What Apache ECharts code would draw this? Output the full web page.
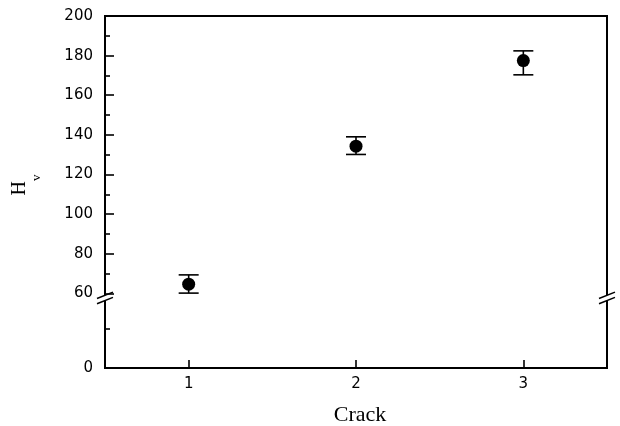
<!DOCTYPE html>
<html>
<head>
<meta charset="utf-8">
<script src="https://cdn.jsdelivr.net/npm/echarts@6/dist/echarts.min.js"></script>
<style>
  html, body { margin: 0; padding: 0; background: #fff; }
  #chart { width: 620px; height: 426px; }
</style>
</head>
<body>
<div id="chart"></div>
<script>
// Vickers hardness per crack (mean with lower/upper error bounds)
const categories = ['1', '2', '3'];
const hvMean = [64.6, 134.3, 177.5];
const hvLow = [60.1, 130.1, 170.3];
const hvHigh = [69.3, 139.0, 182.4];

// Y axis: labelled ticks, short ticks and the collapsed range
const yMajorTicks = [0, 60, 80, 100, 120, 140, 160, 180, 200];
const yMinorTicks = [20, 70, 90, 110, 130, 150, 170, 190];
const yBreak = { start: 35, end: 58 };

const INK = '#000';
const chart = echarts.init(document.getElementById('chart'), null, { renderer: 'canvas' });

function yAxisBase() {
  return {
    type: 'value',
    min: 0,
    max: 200,
    position: 'left',
    offset: 0,
    breaks: [{ start: yBreak.start, end: yBreak.end, gap: '0.4%' }],
    breakArea: { show: false, itemStyle: { opacity: 0, borderWidth: 0 } },
    splitLine: { show: false },
    axisLine: { show: false }
  };
}

const majorY = Object.assign(yAxisBase(), {
  name: '{h|H}{v|v}',
  nameLocation: 'middle',
  nameGap: 62,
  nameTextStyle: {
    padding: [0, 0, 0, 14],
    rich: {
      h: { fontFamily: 'Liberation Serif', fontSize: 20, color: INK, lineHeight: 34, verticalAlign: 'middle' },
      v: { fontFamily: 'Liberation Serif', fontSize: 13, color: INK, lineHeight: 46, verticalAlign: 'bottom' }
    }
  },
  axisTick: { show: true, inside: true, length: 9, lineStyle: { color: INK, width: 1.6 }, customValues: yMajorTicks },
  axisLabel: { show: true, margin: 12, fontFamily: 'DejaVu Sans', fontSize: 15, color: INK, customValues: yMajorTicks }
});

const minorY = Object.assign(yAxisBase(), {
  axisTick: { show: true, inside: true, length: 5, lineStyle: { color: INK, width: 1.6 }, customValues: yMinorTicks },
  axisLabel: { show: false }
});

chart.setOption({
  animation: false,
  backgroundColor: '#fff',
  grid: {
    left: 105, right: 13, top: 16, bottom: 58,
    containLabel: false, outerBoundsMode: 'none',
    show: true, borderColor: INK, borderWidth: 2, backgroundColor: 'transparent'
  },
  xAxis: {
    type: 'category',
    data: categories,
    boundaryGap: true,
    name: 'Crack',
    nameLocation: 'middle',
    nameGap: 36,
    nameTextStyle: { fontFamily: 'Liberation Serif', fontSize: 22, color: INK, padding: [0, 0, 0, 8] },
    axisLine: { show: false },
    axisTick: { show: true, inside: true, alignWithLabel: true, length: 8, lineStyle: { color: INK, width: 1.6 } },
    axisLabel: { margin: 9, fontFamily: 'DejaVu Sans', fontSize: 15, color: INK },
    splitLine: { show: false }
  },
  yAxis: [majorY, minorY],
  series: [
    {
      type: 'custom',
      name: 'error',
      data: categories.map((c, i) => [i, hvLow[i], hvHigh[i]]),
      encode: { x: 0, y: [1, 2] },
      z: 3,
      renderItem: function (params, api) {
        const lo = api.coord([api.value(0), api.value(1)]);
        const hi = api.coord([api.value(0), api.value(2)]);
        const x = lo[0];
        const half = 10;
        const style = { stroke: INK, lineWidth: 1.6 };
        return {
          type: 'group',
          children: [
            { type: 'line', shape: { x1: x, y1: lo[1], x2: x, y2: hi[1] }, style: style },
            { type: 'line', shape: { x1: x - half, y1: hi[1], x2: x + half, y2: hi[1] }, style: style },
            { type: 'line', shape: { x1: x - half, y1: lo[1], x2: x + half, y2: lo[1] }, style: style }
          ]
        };
      }
    },
    {
      type: 'scatter',
      name: 'Hv',
      data: hvMean,
      symbol: 'circle',
      symbolSize: 13,
      itemStyle: { color: INK, opacity: 1 },
      z: 4
    }
  ]
});

// Axis-break marks (a pair of slanted strokes) on the left and right frame lines
const rect = chart.getModel().getComponent('grid', 0).coordinateSystem.getRect();
const yb = (chart.convertToPixel({ yAxisIndex: 0 }, yBreak.start) +
            chart.convertToPixel({ yAxisIndex: 0 }, yBreak.end)) / 2;
const breakMarks = [];
[rect.x, rect.x + rect.width].forEach(function (x) {
  const s = 0.4, d = 2.6, w = 8;
  breakMarks.push({
    type: 'polygon', z: 100,
    shape: { points: [[x - 3, yb - d + 3 * s], [x + 3, yb - d - 3 * s], [x + 3, yb + d - 3 * s], [x - 3, yb + d + 3 * s]] },
    style: { fill: '#fff', stroke: null }
  });
  [-d, d].forEach(function (off) {
    breakMarks.push({
      type: 'line', z: 101,
      shape: { x1: x - w, y1: yb + off + w * s, x2: x + w, y2: yb + off - w * s },
      style: { stroke: INK, lineWidth: 1.5 }
    });
  });
});
chart.setOption({ graphic: { elements: breakMarks } });
</script>
</body>
</html>
